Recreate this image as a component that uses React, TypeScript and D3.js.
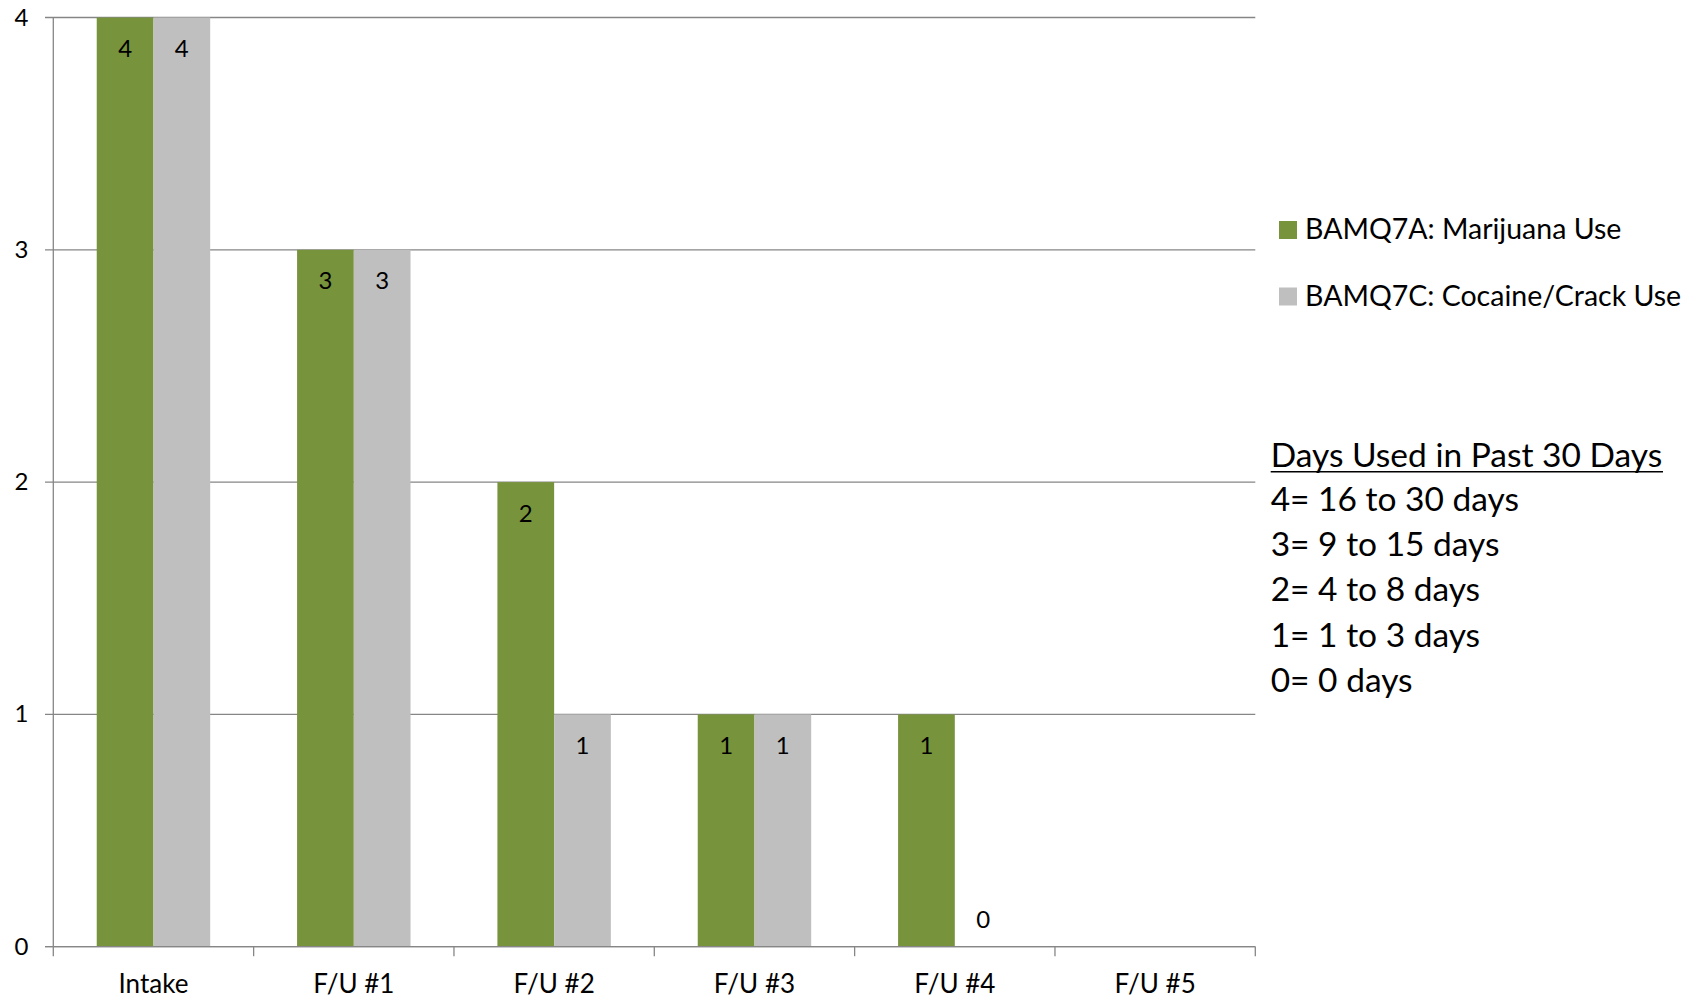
import React from "react";
import * as d3 from "d3";

// Follow-up timepoints and the coded frequency of use at each
const categories = ["Intake", "F/U #1", "F/U #2", "F/U #3", "F/U #4", "F/U #5"];
const marijuanaUse: (number | null)[] = [4, 3, 2, 1, 1, null];
const cocaineUse: (number | null)[] = [4, 3, 1, 1, 0, null];

const seriesNames = ["BAMQ7A: Marijuana Use", "BAMQ7C: Cocaine/Crack Use"];
const seriesColors = ["#77933C", "#BFBFBF"];
const yTicks = [0, 1, 2, 3, 4];

const keyTitle = "Days Used in Past 30 Days";
const keyLines = [
  "4= 16 to 30 days",
  "3= 9 to 15 days",
  "2= 4 to 8 days",
  "1= 1 to 3 days",
  "0= 0 days",
];

const W = 1695;
const H = 1001;
const FONT = "Lato, 'Open Sans', sans-serif";

export default function App() {
  const left = 53.3;
  const right = 1255.3;
  const top = 17.5;
  const bottom = 946.7;

  const x = d3.scaleBand<string>().domain(categories).range([left, right]).padding(0);
  const x1 = d3
    .scaleBand<string>()
    .domain(seriesNames)
    .range([0, x.bandwidth()])
    .paddingInner(0)
    .paddingOuter(0.766);
  const y = d3.scaleLinear().domain([0, 4]).range([bottom, top]);

  const series = [marijuanaUse, cocaineUse];
  const axisColor = "#868686";

  const boundaries = categories.map((c) => x(c)!).concat([right]);

  return (
    <svg
      width={W}
      height={H}
      style={{ position: "absolute", left: 0, top: 0, background: "#fff" }}
      fontFamily={FONT}
    >
      {/* horizontal gridlines with left tick stubs */}
      {yTicks.map((t) => (
        <line
          key={"g" + t}
          x1={left - 8.3}
          x2={right}
          y1={y(t)}
          y2={y(t)}
          stroke={axisColor}
          strokeWidth={1.3}
        />
      ))}
      {/* y axis */}
      <line x1={left} x2={left} y1={top} y2={bottom} stroke={axisColor} strokeWidth={1.3} />
      {yTicks.map((t) => (
        <text key={"yl" + t} x={28.5} y={y(t) + 8} textAnchor="end" fontSize={24} fill="#000">
          {t}
        </text>
      ))}
      {/* x axis ticks between categories */}
      {boundaries.map((b, i) => (
        <line key={"xt" + i} x1={b} x2={b} y1={bottom} y2={bottom + 9.5} stroke={axisColor} strokeWidth={1.3} />
      ))}

      {/* bars */}
      {series.map((vals, si) =>
        vals.map((v, ci) => {
          if (v === null) return null;
          const bx = x(categories[ci])! + x1(seriesNames[si])!;
          const bw = x1.bandwidth();
          return (
            <g key={`b${si}-${ci}`}>
              {v > 0 && (
                <rect x={bx} y={y(v)} width={bw} height={y(0) - y(v)} fill={seriesColors[si]} />
              )}
              <text
                x={bx + bw / 2}
                y={v > 0 ? y(v) + 39.5 : y(0) - 19}
                textAnchor="middle"
                fontSize={24}
                fill="#000"
              >
                {v}
              </text>
            </g>
          );
        })
      )}
      {/* axis baseline drawn over the bars */}
      <line x1={left - 8.3} x2={right} y1={bottom} y2={bottom} stroke={axisColor} strokeWidth={1.3} />

      {/* category labels */}
      {categories.map((c) => (
        <text
          key={"xl" + c}
          x={x(c)! + x.bandwidth() / 2}
          y={993}
          textAnchor="middle"
          fontSize={26}
          fill="#000"
        >
          {c}
        </text>
      ))}

      {/* legend */}
      {seriesNames.map((n, i) => (
        <g key={"lg" + i} transform={`translate(1279, ${221 + i * 66.5})`}>
          <rect x={0} y={0} width={18} height={18} fill={seriesColors[i]} />
          <text x={26} y={18} fontSize={28.5} fill="#000">
            {n}
          </text>
        </g>
      ))}

      {/* coding key */}
      <text x={1270.7} y={466.7} fontSize={33.5} fill="#000">
        {keyTitle}
      </text>
      <line x1={1270.7} x2={1663} y1={471.7} y2={471.7} stroke="#000" strokeWidth={1.5} />
      {keyLines.map((l, i) => (
        <text key={"k" + i} x={1270.7} y={511 + i * 45.2} fontSize={33.5} fill="#000">
          {l}
        </text>
      ))}
    </svg>
  );
}
